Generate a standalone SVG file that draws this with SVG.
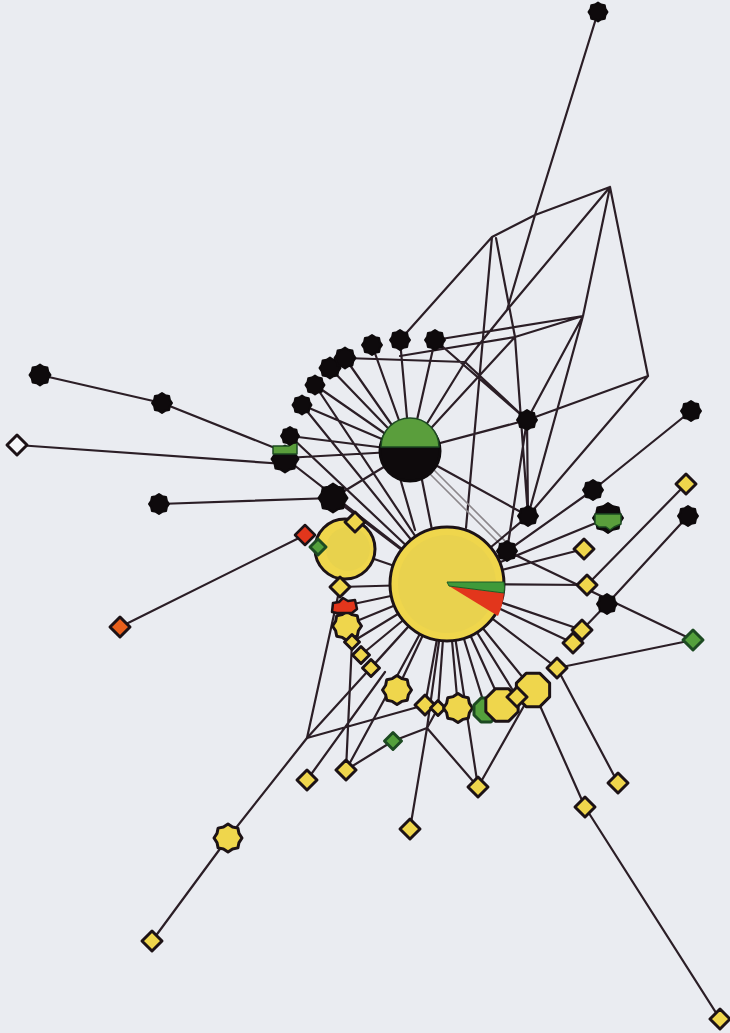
<svg xmlns="http://www.w3.org/2000/svg" width="730" height="1033" viewBox="0 0 730 1033">
<style>
.ln{fill:none;stroke:#2b1e26;stroke-width:2.2;stroke-linecap:round}
.gl{fill:none;stroke:#8c878b;stroke-width:1.6}
.bk{fill:#0e0a0c;stroke:#0e0a0c;stroke-width:2;stroke-linejoin:round}
.yw{fill:#efd64c;stroke:#1c1216;stroke-width:3;stroke-linejoin:round}
.gr{fill:#54a03c;stroke:#1d4a22;stroke-width:3;stroke-linejoin:round}
.gf{fill:#5a9e3c;stroke:#1d4a22;stroke-width:1.5;stroke-linejoin:round}
.rd{fill:#e2361c;stroke:#1c1216;stroke-width:2.5;stroke-linejoin:round}
.or{fill:#e8601c;stroke:#1c1216;stroke-width:3;stroke-linejoin:round}
.wh{fill:#f6f7fa;stroke:#1c1216;stroke-width:3;stroke-linejoin:round}
</style>
<defs>
<path id="fl" vector-effect="non-scaling-stroke" d="M10,0 L7.85,3.25 7.07,7.07 3.25,7.85 0,10 -3.25,7.85 -7.07,7.07 -7.85,3.25 -10,0 -7.85,-3.25 -7.07,-7.07 -3.25,-7.85 0,-10 3.25,-7.85 7.07,-7.07 7.85,-3.25 Z"/>
<path id="dm" vector-effect="non-scaling-stroke" d="M0,-10 L10,0 0,10 -10,0 Z"/>
<path id="oc" vector-effect="non-scaling-stroke" d="M9.24,3.83 L3.83,9.24 -3.83,9.24 -9.24,3.83 -9.24,-3.83 -3.83,-9.24 3.83,-9.24 9.24,-3.83 Z"/>
</defs>
<rect width="730" height="1033" fill="#eaecf1"/>
<g id="connectors">
<path class="ln" d="M598,12L535,215 M535,215L507,310 M492,237L535,215 M535,215L610,187 M610,187L507,310 M610,187L583,316 M610,187L648,376 M492,237L400,340 M496,238L515,337 M492,237L466,528 M507,310L465,362 M583,316L435,340 M583,316L515,337 M583,316L527,420 M583,316L528,516 M648,376L527,420 M648,376L528,516 M515,337L410,451 M515,337L528,516 M465,362L527,420 M465,362L410,451 M345,358L465,362 M527,420L410,451 M527,420L528,516 M527,420L507,551 M435,340L527,420 M410,451L528,516 M400,356L515,337"/>
<path class="ln" d="M330,368L410,451 M345,358L410,451 M372,345L410,451 M400,340L410,451 M435,340L410,451 M315,385L410,451 M302,405L410,451 M290,436L410,451 M285,458L410,451 M333,498L410,451 M315,385L447,584 M302,405L447,584 M290,436L447,584 M285,458L447,584 M333,498L447,584 M400,478L415,530 M422,480L432,530"/>
<path class="gl" d="M428,472L507,551 M432,468L511,547"/>
<path class="ln" d="M40,375L162,403 M162,403L285,452 M17,445L285,464 M159,504L333,498 M120,627L305,535"/>
<path class="ln" d="M691,411L593,490 M593,490L507,551 M608,518L447,584 M688,516L607,604 M607,604L582,630 M686,484L587,585 M587,585L447,584 M584,549L447,584 M582,630L447,584 M573,643L447,584 M557,668L447,584 M507,551L447,584 M528,516L447,584 M507,551L693,640 M693,640L557,668"/>
<path class="ln" d="M720,1019L585,807 M585,807L533,690 M618,783L557,668 M478,787L427,728 M478,787L533,690 M427,728L393,741 M427,728L438,708 M410,829L427,728 M346,770L393,741 M346,770L352,642 M307,780L385,672 M152,941L228,838 M228,838L307,738 M307,738L425,705 M307,738L340,587"/>
<path class="ln" d="M447,584L352,642 M447,584L361,655 M447,584L371,668 M447,584L397,690 M447,584L425,705 M447,584L438,708 M447,584L458,708 M447,584L486,710 M447,584L502,705 M447,584L517,697 M447,584L533,690 M447,584L340,587 M447,584L345,549 M447,584L344,606 M447,584L347,625 M447,584L307,738 M447,584L427,728 M447,584L478,787 M447,584L346,770"/>
</g>
<g id="n1"><use href="#fl" class="bk" transform="translate(598 12) scale(0.95)"/></g>
<g id="n2"><use href="#fl" class="bk" transform="translate(40 375) scale(1.05)"/></g>
<g id="n3"><use href="#fl" class="bk" transform="translate(162 403)"/></g>
<g id="n4"><use href="#fl" class="bk" transform="translate(159 504)"/></g>
<g id="n5a"><use href="#fl" class="bk" transform="translate(330 368) scale(1.05)"/></g>
<g id="n5b"><use href="#fl" class="bk" transform="translate(345 358) scale(1.05)"/></g>
<g id="n6"><use href="#fl" class="bk" transform="translate(372 345)"/></g>
<g id="n7"><use href="#fl" class="bk" transform="translate(400 340)"/></g>
<g id="n8"><use href="#fl" class="bk" transform="translate(435 340)"/></g>
<g id="n9"><use href="#fl" class="bk" transform="translate(315 385) scale(0.95)"/></g>
<g id="n10"><use href="#fl" class="bk" transform="translate(302 405) scale(0.95)"/></g>
<g id="n12"><use href="#fl" class="bk" transform="translate(285 459) scale(1.35)"/><path class="gf" d="M273,446 L289,446 290,443 297,443 297,454 273,454 Z"/></g>
<g id="n11"><use href="#fl" class="bk" transform="translate(290 436) scale(0.9)"/></g>
<g id="n13"><use href="#fl" class="bk" transform="translate(333 498) scale(1.45)"/></g>
<g id="n14"><use href="#fl" class="bk" transform="translate(527 420)"/></g>
<g id="n15"><use href="#fl" class="bk" transform="translate(691 411)"/></g>
<g id="n16"><use href="#fl" class="bk" transform="translate(593 490)"/></g>
<g id="n17"><use href="#fl" class="bk" transform="translate(528 516)"/></g>
<g id="n18"><use href="#fl" class="bk" transform="translate(507 551)"/></g>
<g id="n19"><use href="#fl" class="bk" transform="translate(608 518) scale(1.5)"/><path class="gf" d="M595,514 L621,514 621,524 614,527 610,530 606,527 599,527 595,524 Z"/></g>
<g id="n20"><use href="#fl" class="bk" transform="translate(688 516)"/></g>
<g id="n21"><use href="#fl" class="bk" transform="translate(607 604)"/></g>
<g id="nGB"><circle cx="410" cy="451" r="30" fill="#0e0a0c" stroke="#0e0a0c" stroke-width="3"/><path class="gf" d="M381,447 A29,29 0 0 1 439,447 Z"/></g>
<g id="nY1"><circle cx="345" cy="549" r="30" fill="#efd64c" stroke="#1c1216" stroke-width="3"/><circle cx="348" cy="549" r="22" fill="#e8d24d"/></g>
<g id="nPie"><circle cx="447" cy="584" r="57" fill="#efd64c" stroke="#1c1216" stroke-width="3"/><circle cx="447" cy="584" r="49" fill="#e9d24e"/><path d="M449,586 L504,593 Q503,605 498,616 Z" fill="#e2361c"/><path d="M447,582 L504,582 Q505,588 504,593 L449,586 Z" fill="#3f9a3a" stroke="#1d5a26" stroke-width="1"/></g>
<g id="nYa"><use href="#dm" class="yw" transform="translate(355 522)"/></g>
<g id="nR1"><use href="#dm" class="rd" transform="translate(305 535)"/></g>
<g id="nG1"><use href="#dm" class="gr" transform="translate(318 547) scale(0.8)"/></g>
<g id="nYb"><use href="#dm" class="yw" transform="translate(340 587)"/></g>
<g id="nYc"><use href="#fl" class="yw" transform="translate(347 626) scale(1.45)"/><path class="rd" d="M332,612 L333,603 339,602 343,598 348,601 355,600 357,609 352,613 337,613 Z"/></g>
<g id="nYd"><use href="#dm" class="yw" transform="translate(352 642) scale(0.75)"/></g>
<g id="nYe"><use href="#dm" class="yw" transform="translate(361 655) scale(0.85)"/></g>
<g id="nYf"><use href="#dm" class="yw" transform="translate(371 668) scale(0.85)"/></g>
<g id="nYg"><use href="#fl" class="yw" transform="translate(397 690) scale(1.45)"/></g>
<g id="nYh"><use href="#dm" class="yw" transform="translate(425 705)"/></g>
<g id="nYi"><use href="#dm" class="yw" transform="translate(438 708) scale(0.75)"/></g>
<g id="nYj"><use href="#fl" class="yw" transform="translate(458 708) scale(1.45)"/></g>
<g id="nG2"><use href="#oc" class="gr" transform="translate(486 710) scale(1.3)"/></g>
<g id="nYk"><use href="#oc" class="yw" transform="translate(533 690) scale(1.8)"/></g>
<g id="nYl"><use href="#oc" class="yw" transform="translate(502 705) scale(1.75)"/></g>
<g id="nYm"><use href="#dm" class="yw" transform="translate(517 697)"/></g>
<g id="nYn"><use href="#dm" class="yw" transform="translate(557 668)"/></g>
<g id="nYo"><use href="#dm" class="yw" transform="translate(573 643)"/></g>
<g id="nYp"><use href="#dm" class="yw" transform="translate(582 630)"/></g>
<g id="nYq"><use href="#dm" class="yw" transform="translate(587 585)"/></g>
<g id="nYr"><use href="#dm" class="yw" transform="translate(584 549)"/></g>
<g id="nYs"><use href="#dm" class="yw" transform="translate(686 484)"/></g>
<g id="nG3"><use href="#dm" class="gr" transform="translate(693 640)"/></g>
<g id="nG4"><use href="#dm" class="gr" transform="translate(393 741) scale(0.85)"/></g>
<g id="nYt"><use href="#dm" class="yw" transform="translate(307 780)"/></g>
<g id="nYu"><use href="#dm" class="yw" transform="translate(346 770)"/></g>
<g id="nYv"><use href="#dm" class="yw" transform="translate(410 829)"/></g>
<g id="nYw"><use href="#dm" class="yw" transform="translate(478 787)"/></g>
<g id="nYx"><use href="#dm" class="yw" transform="translate(585 807)"/></g>
<g id="nYy"><use href="#dm" class="yw" transform="translate(618 783)"/></g>
<g id="nYz"><use href="#fl" class="yw" transform="translate(228 838) scale(1.4)"/></g>
<g id="nY2"><use href="#dm" class="yw" transform="translate(152 941)"/></g>
<g id="nY3"><use href="#dm" class="yw" transform="translate(720 1019)"/></g>
<g id="nO1"><use href="#dm" class="or" transform="translate(120 627)"/></g>
<g id="nW1"><use href="#dm" class="wh" transform="translate(17 445)"/></g>
</svg>
